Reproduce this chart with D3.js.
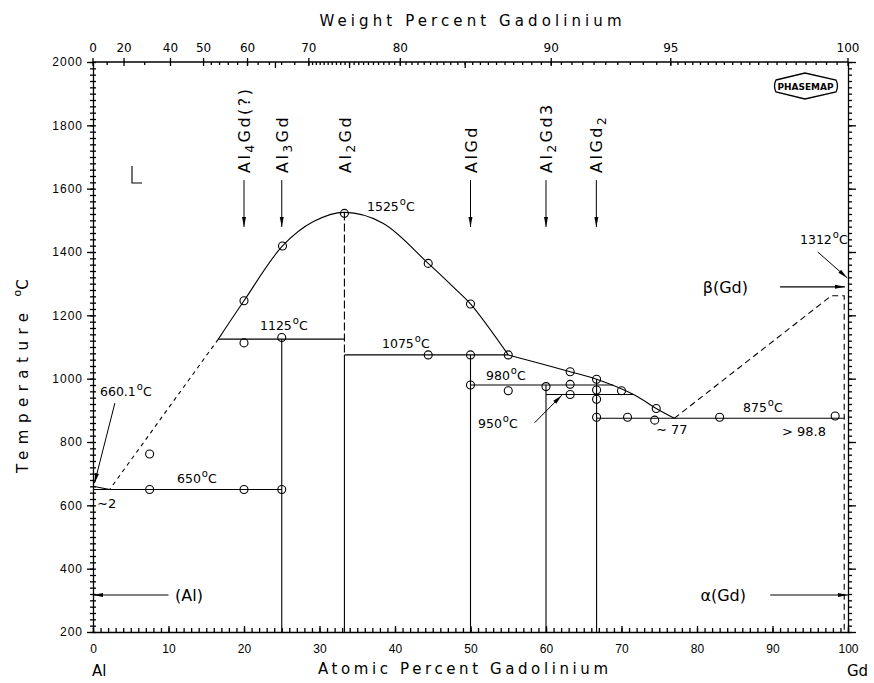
<!DOCTYPE html>
<html lang="en">
<head>
<meta charset="UTF-8">
<title>Al-Gd</title>
<script src="https://d3js.org/d3.v7.min.js"></script>
<style>
  body { margin: 0; padding: 0; background: #fff; }
  svg { font-family: "DejaVu Sans", sans-serif; }
  .ax path, .ax line { stroke: #000; stroke-width: 1.3; }
  .ax text { font-size: 12px; fill: #000; }
</style>
</head>
<body>
<div id="chart"></div>
<script>
// ---- data (atomic % Gd, temperature in C) ----
var compoundNames = ["Al_4Gd(?)", "Al_3Gd", "Al_2Gd", "AlGd", "Al_2Gd3", "AlGd_2"];
var compoundX = [20, 25, 33.33, 50, 60, 66.67];
var compoundArrow = [true, true, false, true, true, true];

var liquidusLeft = [[16.6, 1125], [20, 1246], [25.1, 1419], [29.2, 1496], [33.3, 1525],
                    [38.4, 1491], [44.4, 1364], [47.7, 1290], [50, 1236], [55, 1075]];
var liquidusRight = [[55, 1075], [63.2, 1022], [66.7, 998], [71.6, 950], [74.6, 906], [77, 875]];
var liquidusAl = [[0, 660.1], [2.2, 650]];
var dashedAl = [[16.6, 1125], [2.2, 650]];
var dashedGd = [[77, 875], [97.8, 1262], [99.5, 1262], [99.5, 200]];

var isoT = [650, 1125, 1075, 980, 950, 875];
var isoFrom = [0, 16.6, 33.3, 50, 60, 66.7];
var isoTo = [25, 33.3, 55, 68.9, 71.6, 99.5];

var vertX = [25, 33.3, 50, 60, 66.7];
var vertTop = [1125, 1075, 1075, 980, 998];

var pointsX = [7.5, 7.5, 20, 25, 20, 25, 20, 25.1, 33.3, 44.4, 50, 44.4, 50, 55, 50, 55, 60,
               63.2, 63.2, 63.2, 66.7, 66.7, 66.7, 70, 66.7, 70.8, 74.6, 74.4, 83, 98.3];
var pointsT = [762, 650, 650, 650, 1113, 1130, 1246, 1419, 1522, 1364, 1236, 1075, 1075, 1075, 980, 962, 975,
               1022, 982, 950, 998, 964, 935, 962, 878, 878, 906, 869, 878, 882];

var phaseLabels = ["(Al)", "\u03b1(Gd)", "\u03b2(Gd)"];
var phaseFrom = [10, 89.7, 91];
var phaseTo = [0, 100, 99.6];
var phaseT = [317, 317, 1290];

var wtLabels = [0, 20, 40, 50, 60, 70, 80, 90, 95, 100];

// ---- layout ----
var W = 874, H = 683;
var x = d3.scaleLinear().domain([0, 100]).range([93, 848]);
var y = d3.scaleLinear().domain([200, 2000]).range([632, 62]);

function wtToAt(w) {
    var g = w / 157.25, a = (100 - w) / 26.98;
    return w >= 100 ? 100 : 100 * g / (g + a);
}

var svg = d3.select("#chart").append("svg").attr("width", W).attr("height", H);

var defs = svg.append("defs");
defs.append("marker").attr("id", "arr")
    .attr("viewBox", "0 0 12 6").attr("refX", 12).attr("refY", 3)
    .attr("markerWidth", 12).attr("markerHeight", 5)
    .attr("markerUnits", "userSpaceOnUse").attr("orient", "auto")
    .append("path").attr("d", "M0,0.6L12,3L0,5.4Z").attr("fill", "#000");

// ---- axes ----
svg.append("g").attr("class", "ax").attr("transform", "translate(0,632)")
    .call(d3.axisBottom(x).tickValues(d3.range(0, 101, 1)).tickSize(-4).tickFormat(""))
    .call(function (g) { g.select(".domain").remove(); });
svg.append("g").attr("class", "ax").attr("transform", "translate(0,632)")
    .call(d3.axisBottom(x).tickValues(d3.range(0, 101, 10)).tickSizeInner(-6).tickSizeOuter(0).tickPadding(12));

svg.append("g").attr("class", "ax").attr("transform", "translate(93,0)")
    .call(d3.axisLeft(y).tickValues(d3.range(200, 2001, 20)).tickSize(3).tickFormat(""))
    .call(function (g) { g.select(".domain").remove(); });
svg.append("g").attr("class", "ax").attr("transform", "translate(93,0)")
    .call(d3.axisLeft(y).tickValues(d3.range(200, 2001, 20)).tickSize(-3).tickFormat(""))
    .call(function (g) { g.select(".domain").remove(); });
svg.append("g").attr("class", "ax").attr("transform", "translate(93,0)")
    .call(d3.axisLeft(y).tickValues(d3.range(200, 2001, 200)).tickFormat(d3.format("d"))
        .tickSizeInner(6).tickSizeOuter(0).tickPadding(4))
    .selectAll("text").attr("letter-spacing", 1);

svg.append("g").attr("class", "ax").attr("transform", "translate(848,0)")
    .call(d3.axisRight(y).tickValues(d3.range(200, 2001, 20)).tickSize(4).tickFormat(""))
    .call(function (g) { g.select(".domain").remove(); });
svg.append("g").attr("class", "ax").attr("transform", "translate(848,0)")
    .call(d3.axisRight(y).tickValues(d3.range(200, 2001, 200)).tickSizeInner(8).tickSizeOuter(0).tickFormat(""));

// top axis: weight percent
var topG = svg.append("g").attr("class", "ax");
topG.append("line").attr("x1", x(0)).attr("x2", x(100)).attr("y1", y(2000)).attr("y2", y(2000));
var minorWt = d3.range(52, 70, 2).concat(d3.range(70, 95, 0.5), d3.range(95, 100, 0.25), [10, 30]);
topG.selectAll(".mn").data(minorWt).enter().append("line")
    .attr("x1", function (d) { return x(wtToAt(d)); }).attr("x2", function (d) { return x(wtToAt(d)); })
    .attr("y1", y(2000)).attr("y2", y(2000) + 3);
topG.selectAll(".md").data([65, 75, 85]).enter().append("line")
    .attr("x1", function (d) { return x(wtToAt(d)); }).attr("x2", function (d) { return x(wtToAt(d)); })
    .attr("y1", y(2000)).attr("y2", y(2000) + 6);
topG.selectAll(".mj").data(wtLabels).enter().append("line")
    .attr("x1", function (d) { return x(wtToAt(d)); }).attr("x2", function (d) { return x(wtToAt(d)); })
    .attr("y1", y(2000) - 4).attr("y2", y(2000) + 4);
topG.selectAll("text").data(wtLabels).enter().append("text")
    .attr("x", function (d) { return x(wtToAt(d)); }).attr("y", 52)
    .attr("text-anchor", "middle").text(function (d) { return d; });

// axis titles
svg.append("text").attr("x", x(50)).attr("y", 26).attr("text-anchor", "middle")
    .attr("font-size", 15).attr("textLength", 302).attr("lengthAdjust", "spacing")
    .text("Weight Percent Gadolinium");
svg.append("text").attr("x", 463).attr("y", 674).attr("text-anchor", "middle")
    .attr("font-size", 15).attr("textLength", 290).attr("lengthAdjust", "spacing")
    .text("Atomic Percent Gadolinium");
svg.append("text").attr("x", 92).attr("y", 676).attr("font-size", 15).text("Al");
svg.append("text").attr("x", 847).attr("y", 676).attr("font-size", 15).text("Gd");
var yt = svg.append("text").attr("transform", "translate(28,473) rotate(-90)").attr("font-size", 15);
yt.append("tspan").attr("textLength", 160).attr("lengthAdjust", "spacing").text("Temperature");
yt.append("tspan").attr("dx", 10).attr("dy", -7).attr("font-size", 11).text("o");
yt.append("tspan").attr("dy", 7).text("C");

// ---- diagram lines ----
var line = d3.line().x(function (d) { return x(d[0]); }).y(function (d) { return y(d[1]); });
var plot = svg.append("g").attr("fill", "none").attr("stroke", "#000").attr("stroke-width", 1.1);

plot.append("path").attr("d", line.curve(d3.curveCatmullRom)(liquidusLeft));
plot.append("path").attr("d", line.curve(d3.curveCatmullRom)(liquidusRight));
line.curve(d3.curveLinear);
plot.append("path").attr("d", line(liquidusAl));
plot.append("path").attr("d", line(dashedAl)).attr("stroke-dasharray", "4,4");
plot.append("path").attr("d", line(dashedGd)).attr("stroke-dasharray", "6,4");
plot.append("path").attr("d", line([[33.3, 1525], [33.3, 1075]])).attr("stroke-dasharray", "8,3");

isoT.forEach(function (t, i) {
    plot.append("path").attr("d", line([[isoFrom[i], t], [isoTo[i], t]]));
});
vertX.forEach(function (v, i) {
    plot.append("path").attr("d", line([[v, vertTop[i]], [v, 200]]));
});

// data points
svg.append("g").selectAll("circle").data(pointsX).enter().append("circle")
    .attr("cx", function (d) { return x(d); })
    .attr("cy", function (d, i) { return y(pointsT[i]); })
    .attr("r", 4).attr("fill", "none").attr("stroke", "#000").attr("stroke-width", 1.1);

// compound markers
var cg = svg.append("g");
compoundNames.forEach(function (name, i) {
    var cx = x(compoundX[i]);
    var t = cg.append("text").attr("transform", "translate(" + (cx + 6) + ",173) rotate(-90)")
        .attr("font-size", 16).attr("letter-spacing", 2.5);
    name.replace(/_?[^_]+/g, function (part) {
        if (part[0] === "_") {
            t.append("tspan").attr("font-size", 12).attr("dy", 4).text(part[1]);
            if (part.length > 2) t.append("tspan").attr("dy", -4).text(part.slice(2));
        } else {
            t.append("tspan").text(part);
        }
        return part;
    });
    if (compoundArrow[i]) {
        cg.append("line").attr("x1", cx).attr("x2", cx).attr("y1", y(1627)).attr("y2", y(1479))
            .attr("stroke", "#000").attr("stroke-width", 1).attr("marker-end", "url(#arr)");
    }
});

// phase arrows
var labelAnchorX = [175, 746, 748];
var pg = svg.append("g");
phaseLabels.forEach(function (lab, i) {
    pg.append("line").attr("x1", x(phaseFrom[i])).attr("x2", x(phaseTo[i]))
        .attr("y1", y(phaseT[i])).attr("y2", y(phaseT[i]))
        .attr("stroke", "#000").attr("stroke-width", 1.1).attr("marker-end", "url(#arr)");
    var left = phaseFrom[i] < phaseTo[i];
    pg.append("text").attr("x", labelAnchorX[i])
        .attr("y", y(phaseT[i]) + 6).attr("font-size", 16)
        .attr("text-anchor", left ? "end" : "start").text(lab);
});

// pointer arrows
[[[2.9, 923], [0.2, 670]], [[58.5, 861], [62.1, 948]], [[96, 1400], [99.9, 1318]]].forEach(function (p) {
    svg.append("line").attr("x1", x(p[0][0])).attr("y1", y(p[0][1]))
        .attr("x2", x(p[1][0])).attr("y2", y(p[1][1]))
        .attr("stroke", "#000").attr("stroke-width", 1).attr("marker-end", "url(#arr)");
});

// temperature labels
function degLabel(px, py, num) {
    var t = svg.append("text").attr("x", px).attr("y", py).attr("font-size", 12.5);
    t.append("tspan").text(num);
    t.append("tspan").attr("dx", 1).attr("dy", -6).attr("font-size", 10).text("o");
    t.append("tspan").attr("dy", 6).text("C");
}
degLabel(367, 211, "1525");
degLabel(260, 330, "1125");
degLabel(382, 348, "1075");
degLabel(486, 380, "980");
degLabel(478, 428, "950");
degLabel(743, 412, "875");
degLabel(800, 244, "1312");
degLabel(100, 396, "660.1");
degLabel(177, 483, "650");
svg.append("text").attr("x", 656).attr("y", 434).attr("font-size", 13).text("\u223c 77");
svg.append("text").attr("x", 782).attr("y", 436).attr("font-size", 13).text("> 98.8");
svg.append("text").attr("x", 97).attr("y", 508).attr("font-size", 13).text("\u223c2");

// liquid mark
svg.append("path").attr("d", "M132,166V183H142").attr("fill", "none").attr("stroke", "#000").attr("stroke-width", 1.1);

// PHASEMAP logo
var lg = svg.append("g");
lg.append("path").attr("d", "M776,80L805,73L836,80Q839,86 836,92L805,99L776,92Q773,86 776,80Z")
    .attr("fill", "none").attr("stroke", "#000").attr("stroke-width", 1.3);
lg.append("text").attr("x", 805.5).attr("y", 89.5).attr("text-anchor", "middle")
    .attr("font-size", 8.5).attr("font-weight", "bold").attr("textLength", 56).attr("lengthAdjust", "spacingAndGlyphs")
    .text("PHASEMAP");
</script>
</body>
</html>
